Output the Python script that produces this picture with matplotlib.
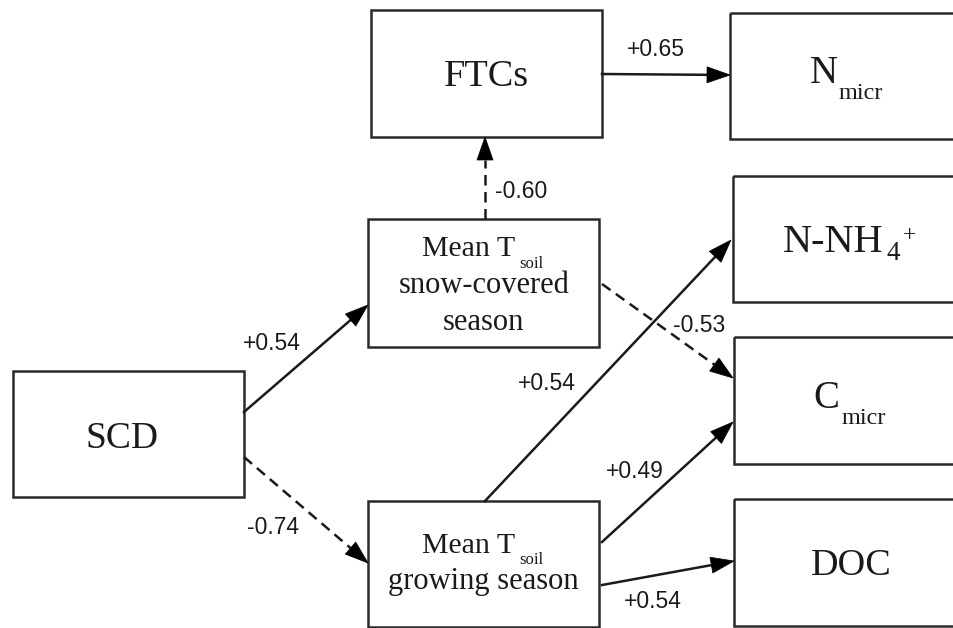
import matplotlib
matplotlib.use("Agg")
import matplotlib.pyplot as plt
from matplotlib.patches import Rectangle, Polygon
import numpy as np

# ---------------- data ----------------
path_sources = ["FTCs", "Tsnow", "SCD", "SCD", "Tsnow", "Tgrow", "Tgrow", "Tgrow"]
path_targets = ["Nmicr", "FTCs", "Tsnow", "Tgrow", "Cmicr", "NH4", "Cmicr", "DOC"]
path_coefficients = [0.65, -0.60, 0.54, -0.74, -0.53, 0.54, 0.49, 0.54]

# ---------------- layout (pixels, y downwards) ----------------
W, H = 954, 628
boxes = {
    "FTCs":  (371, 10, 602, 137),
    "Nmicr": (730, 13, 975, 139),
    "NH4":   (733, 176, 975, 302),
    "Cmicr": (734, 337, 975, 464),
    "DOC":   (734, 499, 975, 626),
    "SCD":   (13, 371, 244, 497),
    "Tsnow": (368, 219, 599, 347),
    "Tgrow": (368, 501, 599, 627),
}
# arrow start / end points and label centres, in path order
arrow_start = [(602, 74), (485, 219), (244, 412), (244, 457),
               (602, 284), (485, 501), (602, 542), (602, 585)]
arrow_end = [(730, 75), (485, 137), (368, 305), (368, 563),
             (733, 378), (731, 240), (733, 422), (734, 561)]
label_pos = [(656, 50), (521, 191), (272, 343), (273, 527),
             (699, 326), (547, 384), (635, 472), (653, 601)]

serif = ["Liberation Serif", "DejaVu Serif"]
sans = ["Liberation Sans", "DejaVu Sans"]
ink = "#1a1a1a"

fig = plt.figure(figsize=(W / 100, H / 100), dpi=100)
ax = fig.add_axes([0, 0, 1, 1])
ax.set_xlim(0, W)
ax.set_ylim(H, 0)
ax.axis("off")

for key, (x0, y0, x1, y1) in boxes.items():
    ax.add_patch(Rectangle((x0, y0), x1 - x0, y1 - y0, fill=False,
                           edgecolor="#2a2a2a", lw=1.8, zorder=2))


def txt(x, y, s, size, ha="left", family=serif):
    ax.text(x, y, s, fontsize=size, family=family, ha=ha, va="baseline",
            color=ink, zorder=4)


# box texts
txt(486, 86, "FTCs", 27.5, ha="center")
txt(851, 575, "DOC", 27.5, ha="center")
txt(122, 448, "SCD", 27, ha="center")
txt(810, 83, "N", 28)
txt(839, 99, "micr", 17.5)
txt(813, 408, "C", 28)
txt(842, 424, "micr", 17.5)
txt(783, 252, "N-NH", 29)
txt(887, 260, "4", 19.5)
txt(903, 241, "+", 17)
# Mean Tsoil snow-covered season
txt(422, 256, "Mean T", 21.5)
txt(519, 268, "soil", 12)
txt(484, 293, "snow-covered", 22, ha="center")
txt(483, 330, "season", 22, ha="center")
# Mean Tsoil growing season
txt(422, 553, "Mean T", 21.5)
txt(519, 564, "soil", 12)
txt(483, 589, "growing season", 22, ha="center")

# arrows
head_len, head_half = 23, 8
for (xs, ys), (xe, ye), coef, (lx, ly) in zip(arrow_start, arrow_end,
                                                path_coefficients, label_pos):
    d = np.array([xe - xs, ye - ys], float)
    L = np.hypot(*d)
    u = d / L
    n = np.array([-u[1], u[0]])
    base = np.array([xe, ye]) - u * head_len
    if coef < 0:
        ax.plot([xs, base[0]], [ys, base[1]], color=ink, lw=1.8,
                dashes=(4.2, 2.6), solid_capstyle="butt", zorder=3)
    else:
        ax.plot([xs, base[0]], [ys, base[1]], color=ink, lw=1.8, zorder=3)
    tri = [(xe, ye), tuple(base + n * head_half), tuple(base - n * head_half)]
    ax.add_patch(Polygon(tri, closed=True, facecolor="black",
                         edgecolor="black", lw=0.5, zorder=3))
    label = f"{coef:+.2f}"
    ax.text(lx, ly, label, fontsize=16.5, family=sans, ha="center",
            va="center", color=ink, zorder=4)

fig.savefig("out.png", dpi=100, facecolor="white")
